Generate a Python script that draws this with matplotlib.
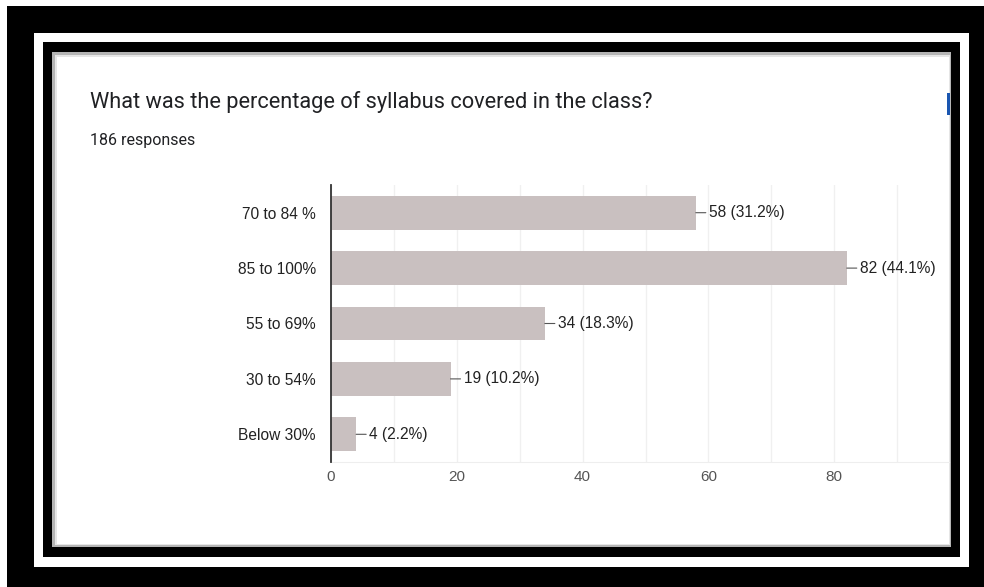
import matplotlib.pyplot as plt
from matplotlib.patches import Rectangle

W, H = 984, 587

categories = ['70 to 84 %', '85 to 100%', '55 to 69%', '30 to 54%', 'Below 30%']
counts = [58, 82, 34, 19, 4]
percents = [31.2, 44.1, 18.3, 10.2, 2.2]
x_ticks = [0, 20, 40, 60, 80]

title = 'What was the percentage of syllabus covered in the class?'
subtitle = '186 responses'


def box(x0, y0, x1, y1, color):
    # pixel box, origin top-left -> figure fraction rectangle
    return Rectangle((x0 / W, 1 - y1 / H), (x1 - x0) / W, (y1 - y0) / H,
                     transform=fig.transFigure, facecolor=color,
                     edgecolor='none', zorder=-1)


fig = plt.figure(figsize=(W / 100, H / 100), dpi=100)
fig.patch.set_facecolor('white')

# frames round the screenshot
fig.patches.append(box(7, 6, 984, 587, 'black'))
fig.patches.append(box(34, 33, 969, 567, 'white'))
fig.patches.append(box(43, 42, 960, 557, 'black'))
fig.patches.append(box(52, 52, 951, 547, '#b5b5b5'))
fig.patches.append(box(55, 55, 950, 545, '#e6e6e6'))
fig.patches.append(box(57, 57, 949, 544, 'white'))
fig.patches.append(box(947, 93, 950, 115, '#1a56b0'))

fig.text(90 / W, 1 - 108 / H, title, family='Roboto', fontsize=15.7,
         color='#202124', va='baseline')
fig.text(90 / W, 1 - 145 / H, subtitle, family='Roboto', fontsize=11.5,
         color='#202124', va='baseline')

# axes: x=0 at px 331, 6.29 px per unit, clipped at card edge
left, right, top, bottom = 331, 949, 185, 462
ax = fig.add_axes([left / W, 1 - bottom / H, (right - left) / W, (bottom - top) / H])
ax.set_zorder(5)
ax.set_facecolor('none')
ax.set_xlim(0, (right - left) / 6.29)
ax.set_ylim(len(categories) - 0.5, -0.5)

ypos = list(range(len(categories)))
ax.barh(ypos, counts, height=0.61, color='#c9c0c0', zorder=2)

for y, c, p in zip(ypos, counts, percents):
    ax.annotate('', xy=(c, y), xytext=(10, 0), textcoords='offset pixels',
                arrowprops=dict(arrowstyle='-', color='#555555', lw=0.8,
                                shrinkA=0, shrinkB=0))
    ax.annotate(f'{c} ({p}%)', xy=(c, y), xytext=(13, 0),
                textcoords='offset pixels', va='center', ha='left',
                family='Liberation Sans', fontsize=11.2, color='#222222')

ax.set_xticks(range(10, 100, 10), minor=True)
ax.set_xticks(x_ticks)
ax.set_xticklabels([str(t) for t in x_ticks], family='Liberation Sans',
                   fontsize=11, color='#555555')
ax.set_yticks(ypos)
ax.set_yticklabels(categories, family='Liberation Sans', fontsize=11.2,
                   color='#222222')
ax.tick_params(axis='both', length=0, pad=11)
ax.tick_params(axis='x', which='minor', length=0)
ax.tick_params(axis='x', pad=6)
ax.grid(axis='x', which='both', color='#f0f0f0', lw=1, zorder=0)

for s in ['top', 'right']:
    ax.spines[s].set_visible(False)
ax.spines['bottom'].set_color('#eeeeee')
ax.spines['left'].set_color('#333333')
ax.spines['left'].set_linewidth(1.3)
ax.spines['left'].set_zorder(3)

plt.savefig('out.png', dpi=100)
